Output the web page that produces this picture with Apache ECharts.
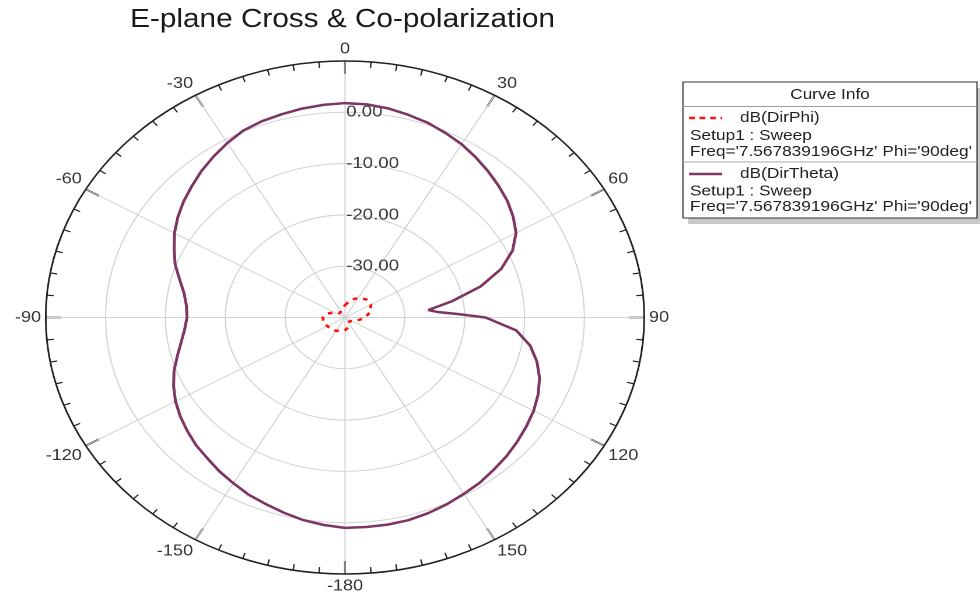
<!DOCTYPE html>
<html>
<head>
<meta charset="utf-8">
<script src="https://cdn.jsdelivr.net/npm/echarts@6/dist/echarts.min.js"></script>
<style>
  html, body { margin: 0; padding: 0; background: #ffffff; overflow: hidden; }
  #wrap { width: 980px; height: 603px; overflow: hidden; position: relative; }
  #main { width: 840px; height: 603px; transform: scaleX(1.1666667); transform-origin: 0 0; }
</style>
</head>
<body>
<div id="wrap"><div id="main"></div></div>
<script>
// ---- Data ----
const chartTitle = "E-plane Cross & Co-polarization";

// dB(DirTheta): angle in degrees (0 = top, clockwise; 180..360 shown as -180..0)
const thetaAngles = [0, 5, 10, 15, 20, 25, 30, 35, 40, 45, 50, 55, 60, 65, 70, 75, 80, 84, 86, 88, 90,
  95, 100, 105, 110, 115, 120, 125, 130, 135, 140, 145, 150, 155, 160, 165, 170, 175, 180,
  185, 190, 195, 200, 205, 210, 215, 220, 225, 230, 235, 240, 245, 250, 255, 260, 265, 270,
  275, 280, 285, 290, 295, 300, 305, 310, 315, 320, 325, 330, 335, 340, 345, 350, 355, 360];
const thetaDb = [1.8, 1.7, 1.4, 0.9, 0.4, -0.3, -1.0, -1.9, -2.8, -3.7, -4.6, -5.7, -7.0, -9.1, -12.2, -16.5, -21.9, -26.0, -24.5, -21.0, -16.5,
  -11.3, -8.6, -6.8, -5.4, -4.4, -3.6, -3.0, -2.4, -1.8, -1.3, -0.7, -0.3, 0.2, 0.6, 0.9, 1.0, 1.0, 1.0,
  0.6, 0.1, -0.6, -1.3, -1.9, -2.7, -3.4, -4.2, -4.8, -5.6, -6.4, -7.3, -8.4, -9.6, -11.0, -12.2, -13.1, -13.6,
  -13.4, -12.7, -11.4, -9.8, -8.5, -7.1, -5.9, -4.8, -3.8, -2.7, -1.7, -0.7, 0.2, 0.7, 1.0, 1.35, 1.6, 1.8];

// dB(DirPhi)
const phiAngles = [0, 15, 30, 45, 60, 75, 90, 105, 120, 135, 150, 165, 180, 195, 210, 225, 240, 255, 270, 285, 300, 315, 330, 345, 360];
const phiDb = [-37.6, -36.5, -35.6, -35.0, -35.0, -35.6, -36.6, -37.8, -38.6, -39.0, -38.6, -38.0, -37.5, -37.3, -37.0, -36.8, -36.6, -36.3, -36.3, -37.0, -38.0, -38.8, -38.8, -38.2, -37.6];

// axes
const radiusMin = -40, radiusMax = 10, radiusStep = 10;
const radiusLabelValues = [-30, -20, -10, 0];
const angleMin = 0, angleMax = 360, angleStep = 30;

// legend texts
const legendHeader = "Curve Info";
const seriesNames = ["dB(DirPhi)", "dB(DirTheta)"];
const setupText = "Setup1 : Sweep";
const freqText = "Freq='7.567839196GHz' Phi='90deg'";

// ---- Chart ----
const FONT = "'Liberation Sans', Arial, Helvetica, sans-serif";
const thetaColor = '#7d3563';
const phiColor = '#ff1414';

const chart = echarts.init(document.getElementById('main'), null, { renderer: 'canvas', devicePixelRatio: 2 });

function legendText(x, y, text, align) {
  return {
    type: 'text', x: x, y: y, z: 101,
    style: { text: text, fill: '#222', font: '14.8px ' + FONT, textAlign: align || 'left', textVerticalAlign: 'middle' }
  };
}

const option = {
  animation: false,
  backgroundColor: '#ffffff',
  polar: { center: [295.7, 317.5], radius: 256.5 },
  angleAxis: {
    type: 'value', min: angleMin, max: angleMax, interval: angleStep,
    startAngle: 90, clockwise: true,
    axisLine: { lineStyle: { color: '#222', width: 1.5 } },
    axisTick: { show: true, inside: true, length: 13, lineStyle: { color: '#111', width: 1.6 } },
    minorTick: { show: true, splitNumber: 6, length: 6, lineStyle: { color: '#222', width: 1.2 } },
    axisLabel: {
      margin: 4, color: '#333', fontSize: 15.5, fontFamily: FONT,
      formatter: function (v) { return String(v >= 180 ? v - 360 : v); }
    },
    splitLine: { show: true, lineStyle: { color: '#d2d2d2', width: 1 } }
  },
  radiusAxis: {
    type: 'value', min: radiusMin, max: radiusMax, interval: radiusStep,
    axisLine: { show: false }, axisTick: { show: false },
    axisLabel: {
      margin: -1, align: 'left', verticalAlign: 'middle', color: '#3c3c3c', fontSize: 16, fontFamily: FONT,
      formatter: function (v) { return radiusLabelValues.indexOf(v) >= 0 ? v.toFixed(2) : ''; }
    },
    splitLine: { show: true, lineStyle: { color: '#d2d2d2', width: 1 } }
  },
  series: [
    {
      name: seriesNames[1], type: 'line', coordinateSystem: 'polar', symbol: 'none', z: 4,
      lineStyle: { color: thetaColor, width: 2.5 },
      data: thetaAngles.map(function (a, i) { return [thetaDb[i], a]; })
    },
    {
      name: seriesNames[0], type: 'line', coordinateSystem: 'polar', symbol: 'none', z: 5,
      lineStyle: { color: phiColor, width: 2.5, type: [4, 5] },
      data: phiAngles.map(function (a, i) { return [phiDb[i], a]; })
    }
  ],
  graphic: [
    {
      type: 'text', x: 293.6, y: 20, z: 100,
      style: { text: chartTitle, fill: '#1a1a1a', font: '25.5px ' + FONT, textAlign: 'center', textVerticalAlign: 'middle' }
    },
    { type: 'rect', z: 99, shape: { x: 590, y: 88, width: 260, height: 136 }, style: { fill: '#c8c8c8' } },
    { type: 'rect', z: 100, shape: { x: 585.4, y: 82, width: 252, height: 136 }, style: { fill: '#fff', stroke: '#333', lineWidth: 1 } },
    { type: 'line', z: 101, shape: { x1: 585.4, y1: 106.5, x2: 837.4, y2: 106.5 }, style: { stroke: '#9a9a9a', lineWidth: 1 } },
    { type: 'line', z: 101, shape: { x1: 585.4, y1: 162, x2: 837.4, y2: 162 }, style: { stroke: '#aaaaaa', lineWidth: 1 } },
    legendText(711.4, 95, legendHeader, 'center'),
    { type: 'line', z: 101, shape: { x1: 590.6, y1: 118, x2: 619, y2: 118 }, style: { stroke: phiColor, lineWidth: 2.5, lineDash: [5, 4] } },
    legendText(634.3, 118, seriesNames[0]),
    legendText(591.4, 136, setupText),
    legendText(591.4, 152, freqText),
    { type: 'line', z: 101, shape: { x1: 590.6, y1: 174, x2: 619, y2: 174 }, style: { stroke: thetaColor, lineWidth: 2.5 } },
    legendText(634.3, 174, seriesNames[1]),
    legendText(591.4, 191.5, setupText),
    legendText(591.4, 207, freqText)
  ]
};
chart.setOption(option);
</script>
</body>
</html>
